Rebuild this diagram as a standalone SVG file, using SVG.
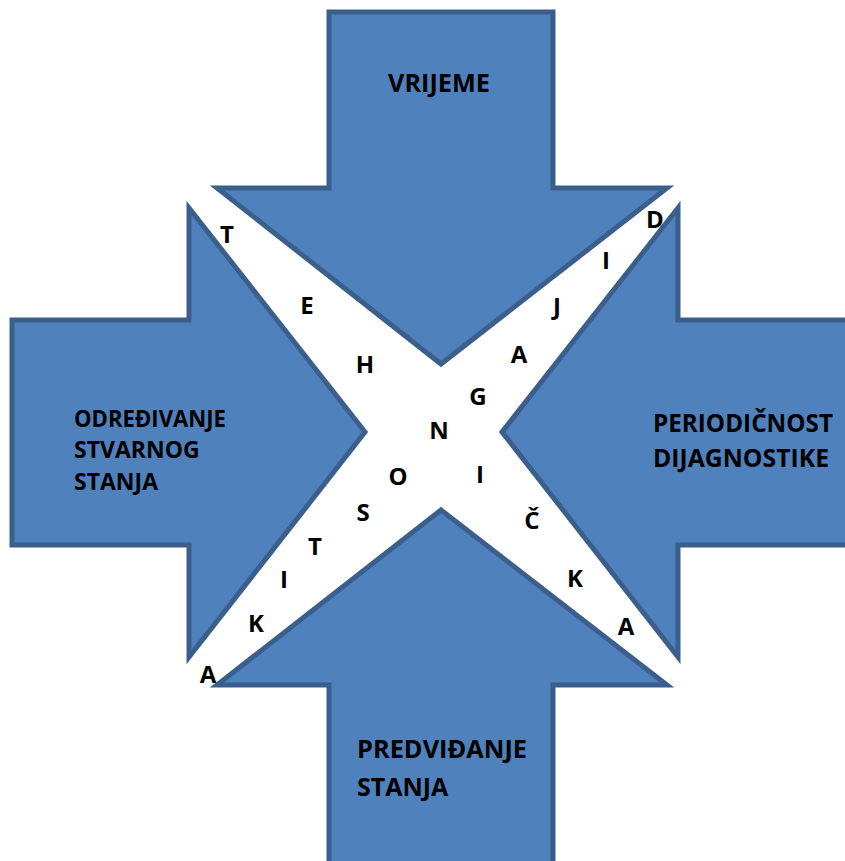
<svg xmlns="http://www.w3.org/2000/svg" width="845" height="861" viewBox="0 0 845 861">
<style>
.arrow{fill:#4F81BD;stroke:#3A5F8C;stroke-width:5;stroke-linejoin:miter}
.lbl{font-family:"Open Sans","Liberation Sans",sans-serif;font-weight:bold;fill:#000}
.ltr{font-family:"Open Sans","Liberation Sans",sans-serif;font-weight:bold;font-size:24px;fill:#000;text-anchor:middle}
</style>
<rect width="845" height="861" fill="#fff"/>
<g id="arrow-top">
<polygon class="arrow" points="329,12 553,12 553,188 667,188 441,364 217,188 329,188"/>
<text class="lbl" x="388" y="92" font-size="25" textLength="102" lengthAdjust="spacingAndGlyphs">VRIJEME</text>
</g>
<g id="arrow-left">
<polygon class="arrow" points="12,320 189,320 189,208 365,432 189,657 189,545 12,545"/>
<text class="lbl" font-size="23"><tspan x="74" y="427" textLength="152" lengthAdjust="spacingAndGlyphs">ODREĐIVANJE</tspan><tspan x="74" y="458">STVARNOG</tspan><tspan x="74" y="490">STANJA</tspan></text>
</g>
<g id="arrow-right">
<polygon class="arrow" points="852,320 678,320 678,208 502,432 678,657 678,545 852,545"/>
<text class="lbl" font-size="25"><tspan x="653" y="432" textLength="180" lengthAdjust="spacingAndGlyphs">PERIODIČNOST</tspan><tspan x="653" y="467" textLength="176" lengthAdjust="spacingAndGlyphs">DIJAGNOSTIKE</tspan></text>
</g>
<g id="arrow-bottom">
<polygon class="arrow" points="217,685 441,510 667,685 553,685 553,870 329,870 329,685"/>
<text class="lbl" font-size="25"><tspan x="357" y="758" textLength="170" lengthAdjust="spacingAndGlyphs">PREDVIĐANJE</tspan><tspan x="357" y="796">STANJA</tspan></text>
</g>
<g id="letters">
<text class="ltr" x="227" y="243">T</text>
<text class="ltr" x="307" y="314">E</text>
<text class="ltr" x="365" y="373">H</text>
<text class="ltr" x="439" y="439">N</text>
<text class="ltr" x="398" y="485">O</text>
<text class="ltr" x="363" y="521">S</text>
<text class="ltr" x="315" y="555">T</text>
<text class="ltr" x="284" y="588">I</text>
<text class="ltr" x="256" y="632">K</text>
<text class="ltr" x="208" y="683">A</text>
<text class="ltr" x="655" y="228">D</text>
<text class="ltr" x="606" y="269">I</text>
<text class="ltr" x="557" y="315">J</text>
<text class="ltr" x="519" y="363">A</text>
<text class="ltr" x="478" y="405">G</text>
<text class="ltr" x="480" y="483">I</text>
<text class="ltr" x="532" y="529">Č</text>
<text class="ltr" x="575" y="587">K</text>
<text class="ltr" x="626" y="635">A</text>
</g>
</svg>
